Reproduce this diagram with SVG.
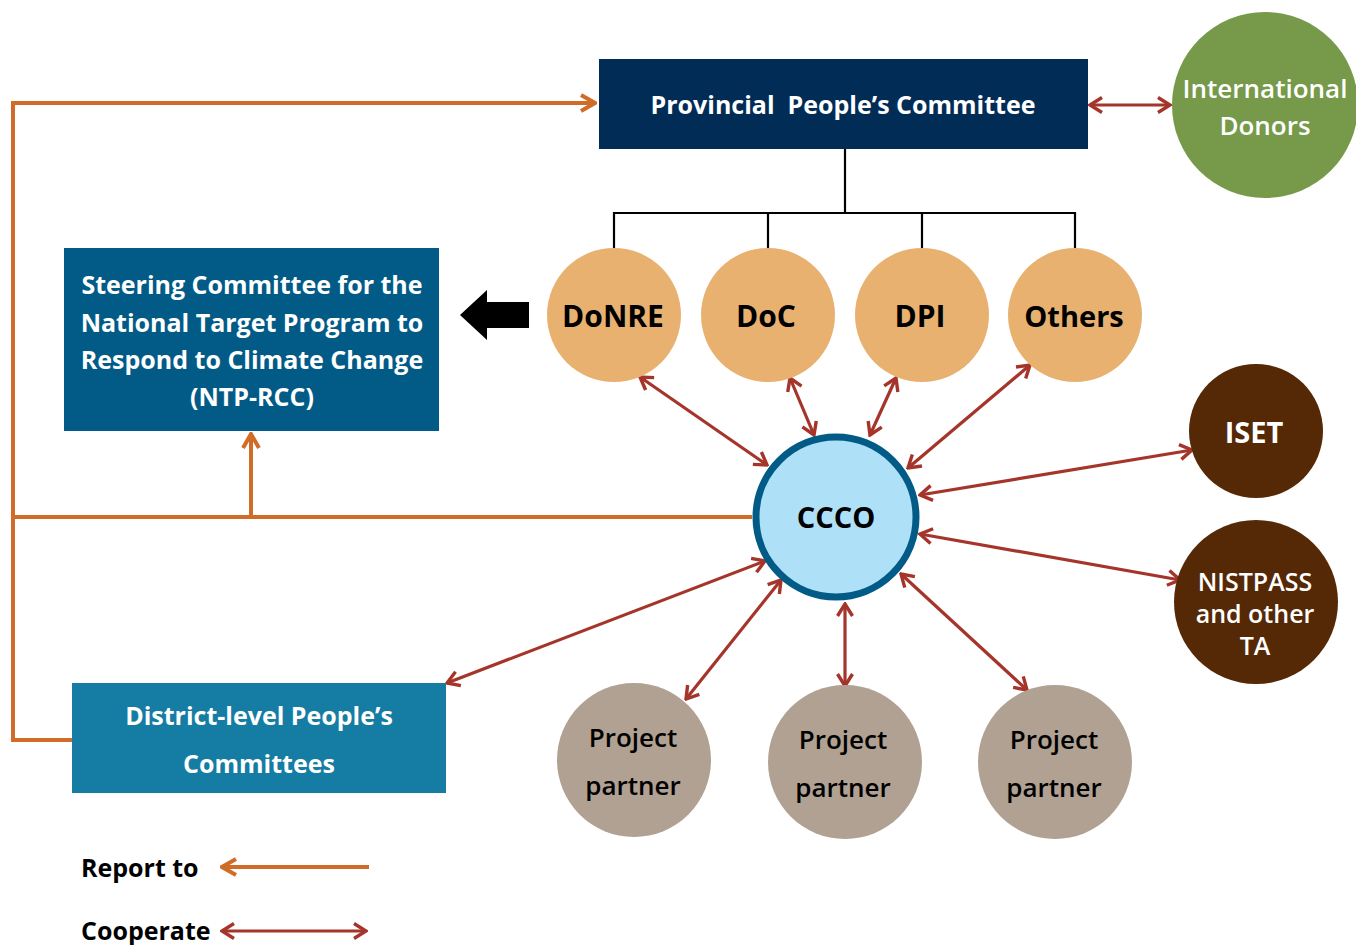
<svg xmlns="http://www.w3.org/2000/svg" width="1356" height="945" viewBox="0 0 1356 945">
  <style>
    text { font-family: "Open Sans", "Liberation Sans", sans-serif; font-weight: 600; text-anchor: middle; }
    .w { fill: #ffffff; }
    .k { fill: #000000; }
    .b { font-weight: 700; }
    .rep { fill: none; stroke: #d06c28; stroke-width: 4; }
    .coop { fill: none; stroke: #a5352a; stroke-width: 3.2; }
    .tree { fill: none; stroke: #000000; stroke-width: 2.2; }
  </style>
  <defs>
    <marker id="headRep" viewBox="-18 -11 20 22" markerWidth="20" markerHeight="22" refX="0" refY="0" orient="auto-start-reverse" markerUnits="userSpaceOnUse">
      <path d="M-14,-8 L0,0 L-14,8" fill="none" stroke="#d06c28" stroke-width="4" stroke-linejoin="miter"/>
    </marker>
    <marker id="headCoop" viewBox="-15 -10 17 20" markerWidth="17" markerHeight="20" refX="0" refY="0" orient="auto-start-reverse" markerUnits="userSpaceOnUse">
      <path d="M-12,-7.5 L0,0 L-12,7.5" fill="none" stroke="#a5352a" stroke-width="3.4" stroke-linejoin="miter"/>
    </marker>
  </defs>

  <rect width="1356" height="945" fill="#ffffff"/>

  <!-- connectors -->
  <g id="connectors">
    <!-- reporting lines -->
    <path class="rep" d="M72,740 H13 V103 H595" marker-end="url(#headRep)"/>
    <path class="rep" d="M752,517 H13"/>
    <path class="rep" d="M251,517 V434" marker-end="url(#headRep)"/>
    <!-- provincial committee to departments -->
    <path class="tree" d="M845,149 V213 M614,248 V213 H1075 V248 M768,213 V248 M922,213 V248"/>
    <!-- cooperation links -->
    <line class="coop" x1="1090" y1="105" x2="1170" y2="105" marker-start="url(#headCoop)" marker-end="url(#headCoop)"/>
    <line class="coop" x1="640" y1="377" x2="767" y2="465" marker-start="url(#headCoop)" marker-end="url(#headCoop)"/>
    <line class="coop" x1="790" y1="378" x2="814" y2="435" marker-start="url(#headCoop)" marker-end="url(#headCoop)"/>
    <line class="coop" x1="896" y1="378" x2="870" y2="435" marker-start="url(#headCoop)" marker-end="url(#headCoop)"/>
    <line class="coop" x1="1030" y1="365" x2="908" y2="468" marker-start="url(#headCoop)" marker-end="url(#headCoop)"/>
    <line class="coop" x1="920" y1="495" x2="1192" y2="450" marker-start="url(#headCoop)" marker-end="url(#headCoop)"/>
    <line class="coop" x1="920" y1="534" x2="1180" y2="580" marker-start="url(#headCoop)" marker-end="url(#headCoop)"/>
    <line class="coop" x1="447" y1="683" x2="765" y2="561" marker-start="url(#headCoop)" marker-end="url(#headCoop)"/>
    <line class="coop" x1="686" y1="699" x2="781" y2="580" marker-start="url(#headCoop)" marker-end="url(#headCoop)"/>
    <line class="coop" x1="845" y1="604" x2="845" y2="686" marker-start="url(#headCoop)" marker-end="url(#headCoop)"/>
    <line class="coop" x1="901" y1="574" x2="1027" y2="690" marker-start="url(#headCoop)" marker-end="url(#headCoop)"/>
    <!-- black block arrow towards the steering committee -->
    <polygon points="460,315 487,290 487,302 529,302 529,328 487,328 487,340" fill="#000000"/>
  </g>

  <g id="provincial">
    <rect x="599" y="59" width="489" height="90" fill="#012c56"/>
    <text class="w b" x="843" y="114" font-size="25" xml:space="preserve">Provincial  People’s Committee</text>
  </g>

  <g id="donors">
    <circle cx="1265" cy="105" r="93" fill="#76994a"/>
    <text class="w" x="1265" y="98" font-size="26">International</text>
    <text class="w" x="1265" y="135" font-size="26">Donors</text>
  </g>

  <g id="donre">
    <circle cx="614" cy="315" r="67" fill="#e9b170"/>
    <text class="k b" x="613" y="327" font-size="30">DoNRE</text>
  </g>
  <g id="doc">
    <circle cx="768" cy="315" r="67" fill="#e9b170"/>
    <text class="k b" x="766" y="327" font-size="30">DoC</text>
  </g>
  <g id="dpi">
    <circle cx="922" cy="315" r="67" fill="#e9b170"/>
    <text class="k b" x="920" y="327" font-size="30">DPI</text>
  </g>
  <g id="others">
    <circle cx="1075" cy="315" r="67" fill="#e9b170"/>
    <text class="k b" x="1074" y="327" font-size="29">Others</text>
  </g>

  <g id="steering">
    <rect x="64" y="248" width="375" height="183" fill="#025b86"/>
    <text class="w b" x="252" y="294" font-size="25">Steering Committee for the</text>
    <text class="w b" x="252" y="332" font-size="25">National Target Program to</text>
    <text class="w b" x="252" y="369" font-size="25">Respond to Climate Change</text>
    <text class="w b" x="252" y="406" font-size="25">(NTP-RCC)</text>
  </g>

  <g id="ccco">
    <circle cx="836" cy="517" r="80" fill="#aee0f8" stroke="#025b86" stroke-width="7"/>
    <text class="k b" x="836" y="528" font-size="29">CCCO</text>
  </g>

  <g id="iset">
    <circle cx="1256" cy="431" r="67" fill="#562906"/>
    <text class="w b" x="1254" y="443" font-size="29">ISET</text>
  </g>

  <g id="nistpass">
    <circle cx="1256" cy="602" r="82" fill="#562906"/>
    <text class="w" x="1255" y="591" font-size="25">NISTPASS</text>
    <text class="w" x="1255" y="623" font-size="25">and other</text>
    <text class="w" x="1255" y="655" font-size="25">TA</text>
  </g>

  <g id="district">
    <rect x="72" y="683" width="374" height="110" fill="#157ca3"/>
    <text class="w b" x="259" y="725" font-size="25">District-level People’s</text>
    <text class="w b" x="259" y="773" font-size="25">Committees</text>
  </g>

  <g id="partner1">
    <circle cx="634" cy="760" r="77" fill="#b0a193"/>
    <text class="k" x="633" y="747" font-size="26">Project</text>
    <text class="k" x="633" y="795" font-size="26">partner</text>
  </g>
  <g id="partner2">
    <circle cx="845" cy="762" r="77" fill="#b0a193"/>
    <text class="k" x="843" y="749" font-size="26">Project</text>
    <text class="k" x="843" y="797" font-size="26">partner</text>
  </g>
  <g id="partner3">
    <circle cx="1055" cy="762" r="77" fill="#b0a193"/>
    <text class="k" x="1054" y="749" font-size="26">Project</text>
    <text class="k" x="1054" y="797" font-size="26">partner</text>
  </g>

  <g id="legend">
    <text class="k b" x="81" y="877" font-size="25" style="text-anchor:start">Report to</text>
    <line class="rep" x1="369" y1="867" x2="222" y2="867" stroke-width="3.4" marker-end="url(#headRep)"/>
    <text class="k b" x="81" y="940" font-size="25" style="text-anchor:start">Cooperate</text>
    <line class="coop" x1="222" y1="931" x2="366" y2="931" marker-start="url(#headCoop)" marker-end="url(#headCoop)"/>
  </g>
</svg>
